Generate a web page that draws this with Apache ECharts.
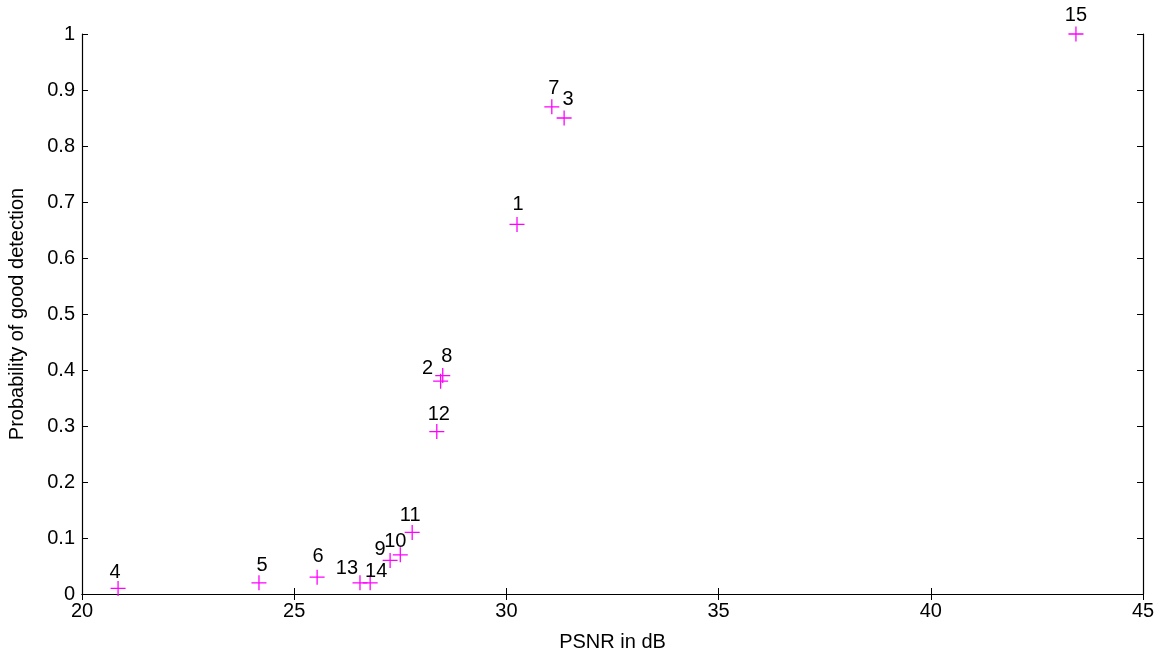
<html>
<head>
<meta charset="utf-8">
<script src="https://cdn.jsdelivr.net/npm/echarts@6/dist/echarts.min.js"></script>
<style>
html,body{margin:0;padding:0;background:#fff;}
#main{width:1163px;height:650px;}
</style>
</head>
<body>
<div id="main"></div>
<script>
// point ids, psnr (dB) and detection probability
var ids  = ['1','2','3','4','5','6','7','8','9','10','11','12','13','14','15'];
var psnr = [30.25, 28.45, 31.36, 20.85, 24.17, 25.54, 31.07, 28.50, 27.26, 27.50, 27.78, 28.36, 26.55, 26.79, 43.42];
var prob = [0.66, 0.38, 0.85, 0.01, 0.02, 0.03, 0.87, 0.39, 0.06, 0.07, 0.11, 0.29, 0.02, 0.02, 1.00];
// text label nudges (px) like in the original figure
var labelShift = [[1,-20],[-13,-13],[4,-19],[-3,-16],[3,-17],[1,-21],[2,-18],[4,-19],[-10,-11],[-5,-13],[-2,-17],[2,-17],[-13,-14],[6,-11],[0,-19]];
var xTicks = [20, 25, 30, 35, 40, 45];

var pts = [];
for (var i = 0; i < ids.length; i++) {
  pts.push({
    value: [psnr[i], prob[i]],
    name: ids[i],
    label: {offset: labelShift[i]}
  });
}

var font = 'Liberation Sans, Arial, sans-serif';
var plus = 'path://M0,6.4 H14 V7.6 H0 Z M6.4,0 H7.6 V14 H6.4 Z';

var myChart = echarts.init(document.getElementById('main'));
var axLine = {show: true, lineStyle: {color: '#000', width: 1.2}};
var option = {
  animation: false,
  backgroundColor: '#fff',
  grid: {left: 82, right: 20, top: 34, bottom: 56, containLabel: false, outerBoundsMode: 'none'},
  xAxis: [{
    type: 'value', min: xTicks[0], max: xTicks[xTicks.length - 1], interval: 5,
    name: 'PSNR in dB', nameLocation: 'middle', nameGap: 38,
    nameTextStyle: {fontFamily: font, fontSize: 20, color: '#000'},
    axisLine: axLine,
    axisTick: {show: true, inside: true, length: 6, lineStyle: {color: '#000'}},
    axisLabel: {fontFamily: font, fontSize: 20, color: '#000', margin: 7},
    splitLine: {show: false}
  }, {
    type: 'value', position: 'top', min: 20, max: 45, interval: 5,
    axisLine: axLine,
    axisTick: {show: true, inside: true, length: 6, lineStyle: {color: '#000'}},
    axisLabel: {show: false}, splitLine: {show: false}
  }],
  yAxis: [{
    type: 'value', min: 0, max: 1, interval: 0.1,
    name: 'Probability of good detection', nameLocation: 'middle', nameGap: 55,
    nameTextStyle: {fontFamily: font, fontSize: 20, color: '#000'},
    axisLine: axLine,
    axisTick: {show: true, inside: true, length: 6, lineStyle: {color: '#000'}},
    axisLabel: {fontFamily: font, fontSize: 20, color: '#000', margin: 7,
      formatter: function (v) { return +v.toFixed(1) + ''; }},
    splitLine: {show: false}
  }, {
    type: 'value', position: 'right', min: 0, max: 1, interval: 0.1,
    axisLine: axLine,
    axisTick: {show: true, inside: true, length: 6, lineStyle: {color: '#000'}},
    axisLabel: {show: false}, splitLine: {show: false}
  }],
  series: [{
    type: 'scatter',
    data: pts,
    symbol: plus,
    symbolSize: 15,
    itemStyle: {color: '#ff00ff', opacity: 1},
    label: {
      show: true, position: 'inside',
      formatter: '{b}',
      fontFamily: font, fontSize: 20, color: '#000'
    },
    emphasis: {disabled: true},
    z: 5
  }]
};
myChart.setOption(option);
window.onresize = myChart.resize;
</script>
</body>
</html>
